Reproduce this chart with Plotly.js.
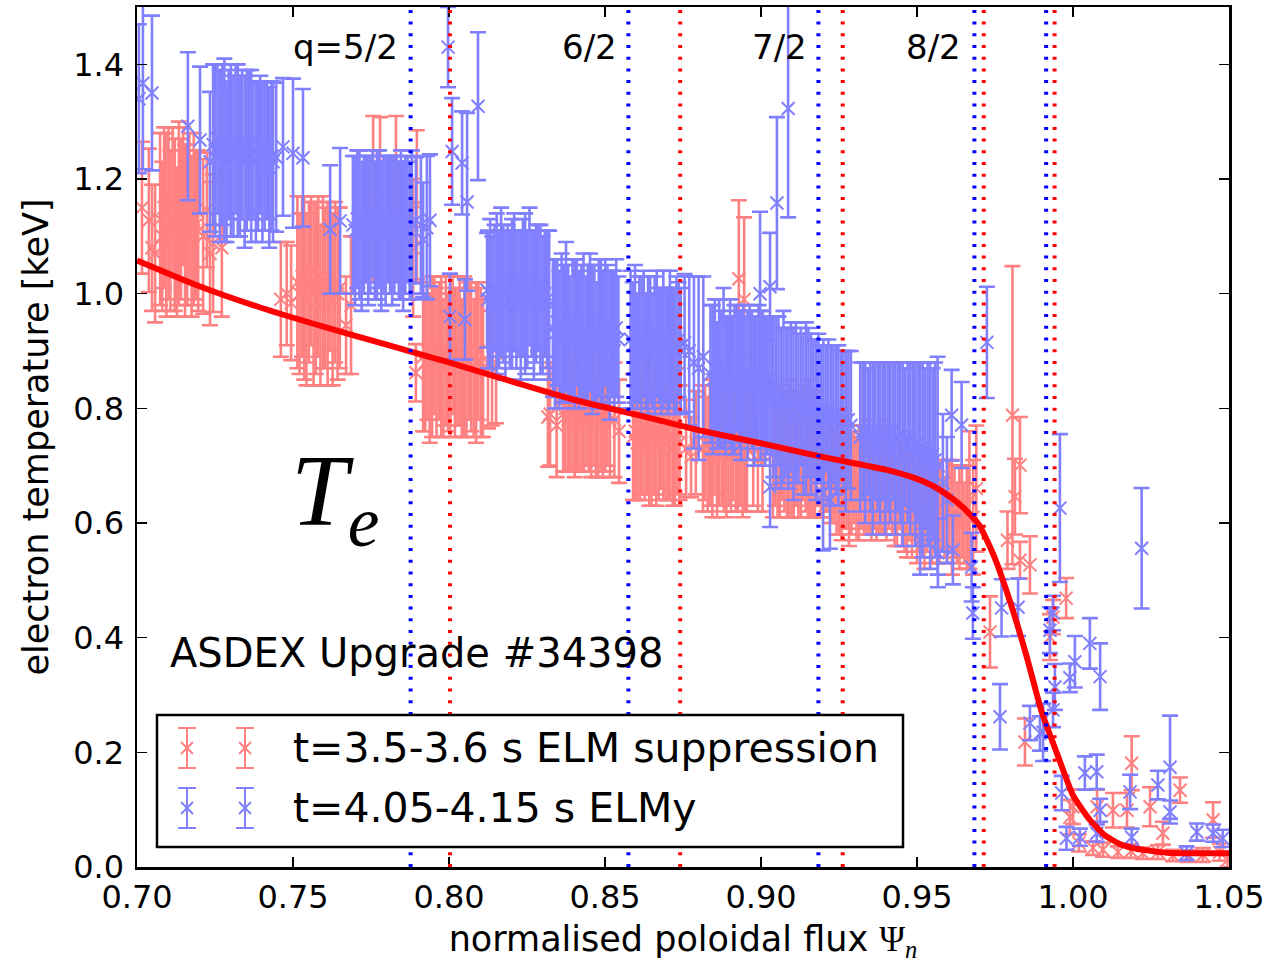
<!DOCTYPE html>
<html><head><meta charset="utf-8">
<script src="https://cdn.plot.ly/plotly-3.0.1.min.js"></script>
<style>html,body{margin:0;padding:0;background:#fff}</style>
</head><body><div id="chart" style="width:1287px;height:963px"></div>
<script>
// ---- data: [psi_n, Te (keV), error (keV)] ----
// t=3.5-3.6 s ELM suppression
const suppA = [[0.7016,1.150,0.115],[0.7038,1.128,0.125],[0.7048,1.080,0.110],[0.7058,1.070,0.120],
[0.7074,1.13,0.15],[0.7081,1.10,0.13],[0.7087,1.15,0.14],[0.7094,1.12,0.16],[0.7101,1.14,0.15],[0.7107,1.11,0.14],[0.7114,1.16,0.13],[0.7121,1.12,0.15],[0.7128,1.09,0.13],[0.7134,1.14,0.16],[0.7141,1.13,0.14],[0.7148,1.17,0.12],[0.7154,1.11,0.15],[0.7161,1.12,0.14],[0.7168,1.15,0.13],[0.7175,1.10,0.14],[0.7182,1.13,0.15],[0.7189,1.12,0.13],[0.7196,1.11,0.14],
[0.7212,1.100,0.135],[0.7224,1.146,0.100],[0.7234,1.070,0.125],[0.7244,1.088,0.120],[0.7272,1.080,0.120]];
const suppB = [[0.7461,0.990,0.100],[0.7480,1.000,0.090],[0.7494,0.984,0.100],
[0.7514,1.02,0.15],[0.7521,1.00,0.14],[0.7529,1.03,0.14],[0.7536,1.01,0.16],[0.7543,0.99,0.15],[0.7551,1.02,0.14],[0.7558,1.04,0.13],[0.7566,1.00,0.16],[0.7573,1.01,0.15],[0.7581,1.03,0.14],[0.7588,0.98,0.14],[0.7596,1.02,0.15],[0.7603,1.01,0.14],[0.7611,1.00,0.16],[0.7619,1.03,0.13],[0.7627,0.99,0.15],[0.7635,1.02,0.14],[0.7643,1.00,0.15],[0.7650,1.01,0.14],
[0.7670,0.945,0.085],[0.7686,0.980,0.120],
[0.7757,1.165,0.145],[0.7779,1.168,0.140],[0.7830,1.170,0.140],[0.7885,1.080,0.120],[0.7897,1.155,0.130]];
const suppC = [[0.7894,0.862,0.050],
[0.7917,0.89,0.13],[0.7924,0.88,0.12],[0.7931,0.90,0.12],[0.7938,0.87,0.13],[0.7946,0.89,0.14],[0.7953,0.91,0.12],[0.7960,0.88,0.13],[0.7968,0.90,0.12],[0.7975,0.89,0.14],[0.7982,0.87,0.12],[0.7990,0.90,0.13],[0.7997,0.88,0.12],[0.8004,0.89,0.14],[0.8012,0.91,0.12],[0.8019,0.88,0.13],[0.8027,0.89,0.12],[0.8034,0.90,0.13],[0.8041,0.87,0.12],[0.8049,0.89,0.14],[0.8056,0.88,0.13],[0.8064,0.90,0.12],[0.8071,0.89,0.13],[0.8079,0.87,0.12],[0.8087,0.88,0.14],[0.8094,0.90,0.12],[0.8102,0.88,0.13],[0.8109,0.87,0.12],
[0.8125,0.880,0.115],[0.8138,0.870,0.100],[0.8151,0.879,0.105]];
const suppD = [[0.8317,0.785,0.087],[0.8324,0.790,0.090],[0.8345,0.770,0.090],
[0.8366,0.79,0.10],[0.8373,0.80,0.11],[0.8381,0.78,0.09],[0.8388,0.81,0.12],[0.8396,0.79,0.10],[0.8403,0.77,0.09],[0.8411,0.80,0.11],[0.8418,0.79,0.10],[0.8426,0.78,0.09],[0.8433,0.81,0.12],[0.8441,0.80,0.10],[0.8448,0.78,0.09],[0.8456,0.79,0.11],[0.8463,0.80,0.10],[0.8471,0.77,0.09],[0.8478,0.79,0.11],[0.8486,0.81,0.12],[0.8493,0.78,0.10],[0.8501,0.80,0.11],[0.8508,0.79,0.09],[0.8516,0.78,0.10],
[0.8530,0.780,0.100],[0.8545,0.760,0.090]];
const suppE = [[0.8590,0.75,0.11],[0.8597,0.76,0.12],[0.8604,0.74,0.10],[0.8612,0.75,0.11],[0.8619,0.77,0.12],[0.8627,0.74,0.10],[0.8634,0.76,0.11],[0.8642,0.75,0.12],[0.8649,0.73,0.10],[0.8657,0.76,0.11],[0.8664,0.75,0.12],[0.8672,0.74,0.10],[0.8679,0.77,0.11],[0.8687,0.75,0.11],[0.8694,0.74,0.10],[0.8702,0.76,0.12],[0.8709,0.75,0.11],[0.8717,0.73,0.10],[0.8724,0.75,0.12],[0.8732,0.76,0.11],[0.8739,0.74,0.10],
[0.8760,0.730,0.085],[0.8776,0.715,0.070],[0.8791,0.740,0.090]];
const suppF = [[0.8814,0.73,0.11],[0.8821,0.74,0.10],[0.8829,0.72,0.10],[0.8836,0.74,0.11],[0.8844,0.73,0.12],[0.8851,0.75,0.10],[0.8859,0.72,0.11],[0.8866,0.73,0.10],[0.8874,0.74,0.11],[0.8881,0.72,0.10],[0.8889,0.73,0.12],[0.8896,0.74,0.11],[0.8904,0.72,0.10],[0.8911,0.74,0.10],[0.8919,0.73,0.11],[0.8926,0.72,0.10],[0.8934,0.74,0.11],[0.8941,0.73,0.12],[0.8949,0.72,0.10],[0.8955,0.73,0.11],
[0.8929,1.026,0.137],[0.8946,0.990,0.143],
[0.8975,0.730,0.100],[0.8990,0.710,0.090],[0.9005,0.720,0.100]];
const suppG = [[0.9038,0.72,0.11],[0.9045,0.73,0.10],[0.9053,0.71,0.10],[0.9060,0.72,0.11],[0.9068,0.74,0.10],[0.9075,0.71,0.09],[0.9083,0.72,0.11],[0.9090,0.73,0.12],[0.9098,0.71,0.10],[0.9105,0.72,0.11],[0.9113,0.73,0.10],[0.9120,0.71,0.10],[0.9128,0.72,0.11],[0.9135,0.74,0.10],[0.9143,0.71,0.09],[0.9150,0.72,0.11],[0.9158,0.73,0.12],[0.9165,0.71,0.10],[0.9173,0.72,0.11],[0.9179,0.73,0.10]];
const suppH = [[0.9192,0.70,0.09],[0.9200,0.69,0.08],[0.9209,0.71,0.09],[0.9218,0.70,0.08],[0.9226,0.69,0.09],[0.9234,0.68,0.08],[0.9242,0.67,0.09],[0.9250,0.68,0.10],[0.9258,0.66,0.09],[0.9266,0.67,0.08],[0.9274,0.68,0.09],[0.9282,0.66,0.10],[0.9290,0.67,0.09],[0.9298,0.68,0.08],[0.9306,0.66,0.09],[0.9314,0.67,0.10],[0.9322,0.68,0.09],[0.9330,0.66,0.08],[0.9338,0.67,0.09],[0.9346,0.68,0.10],[0.9354,0.66,0.09],[0.9362,0.67,0.08],[0.9370,0.66,0.09],[0.9378,0.68,0.10],[0.9386,0.67,0.09],[0.9394,0.66,0.08],[0.9402,0.67,0.10],[0.9410,0.68,0.09]];
const suppI = [[0.9420,0.66,0.08],[0.9428,0.65,0.09],[0.9436,0.64,0.08],[0.9444,0.66,0.07],[0.9452,0.65,0.09],[0.9460,0.63,0.08],[0.9468,0.64,0.10],[0.9476,0.65,0.08],[0.9484,0.63,0.09],[0.9492,0.64,0.07],[0.9500,0.62,0.09],[0.9508,0.63,0.08],[0.9516,0.64,0.09],[0.9524,0.62,0.10],[0.9532,0.63,0.08],[0.9540,0.64,0.08],[0.9548,0.62,0.09],[0.9556,0.63,0.07],[0.9564,0.61,0.08],[0.9572,0.62,0.09],[0.9580,0.63,0.08],[0.9588,0.61,0.07],[0.9596,0.62,0.09],[0.9604,0.63,0.08],[0.9612,0.61,0.10],[0.9620,0.62,0.08],[0.9628,0.60,0.07],[0.9636,0.61,0.09],[0.9644,0.62,0.08],[0.9652,0.60,0.07],[0.9660,0.61,0.09],
[0.9668,0.640,0.120],[0.9680,0.610,0.100],[0.9690,0.660,0.110]];
const suppEdge = [[0.9734,0.410,0.062],[0.9790,0.570,0.050],[0.9806,0.788,0.260],[0.9814,0.646,0.066],[0.9830,0.701,0.084],[0.9830,0.535,0.032],[0.9846,0.218,0.041],[0.9862,0.527,0.050],[0.9926,0.401,0.040],[0.9936,0.436,0.030],[0.9978,0.469,0.035],[0.9990,0.087,0.030],[1.0000,0.105,0.030],[1.0077,0.105,0.030],[1.0128,0.099,0.030],[1.0173,0.099,0.030],[1.0188,0.181,0.047],[1.0247,0.105,0.034],[1.0288,0.059,0.020],[1.0343,0.134,0.022],[1.0449,0.082,0.031],
[1.0019,0.042,0.015],[1.0064,0.033,0.012],[1.0096,0.030,0.012],[1.0144,0.026,0.010],[1.0186,0.028,0.012],[1.0224,0.024,0.010],[1.0272,0.026,0.012],[1.0320,0.020,0.010],[1.0368,0.019,0.010],[1.0416,0.021,0.012],[1.0470,0.026,0.015],[1.0495,0.012,0.012]];

// t=4.05-4.15 s ELMy
const elmyA = [[0.7006,1.340,0.130],[0.7019,1.367,0.150],[0.7048,1.350,0.135],
[0.7163,1.292,0.129],[0.7202,1.268,0.128],[0.7234,1.230,0.122],
[0.7244,1.26,0.14],[0.7251,1.25,0.15],[0.7258,1.27,0.13],[0.7265,1.24,0.15],[0.7273,1.26,0.14],[0.7280,1.25,0.16],[0.7287,1.23,0.14],[0.7294,1.26,0.13],[0.7301,1.25,0.15],[0.7309,1.24,0.14],[0.7316,1.27,0.13],[0.7323,1.25,0.15],[0.7330,1.24,0.14],[0.7337,1.26,0.13],[0.7345,1.23,0.15],[0.7352,1.25,0.14],[0.7359,1.26,0.13],[0.7366,1.24,0.15],[0.7373,1.25,0.12],[0.7381,1.23,0.14],[0.7388,1.24,0.13],[0.7395,1.26,0.12],[0.7402,1.23,0.14],[0.7409,1.24,0.13],[0.7417,1.25,0.12],[0.7424,1.22,0.14],[0.7431,1.24,0.13],[0.7436,1.23,0.14],
[0.7446,1.238,0.130],[0.7468,1.256,0.120],[0.7500,1.245,0.130],[0.7532,1.237,0.120],
[0.7619,1.112,0.112],[0.7651,1.127,0.127]];
const elmyB = [[0.7692,1.12,0.12],[0.7699,1.11,0.13],[0.7706,1.13,0.12],[0.7713,1.12,0.13],[0.7720,1.10,0.13],[0.7727,1.12,0.12],[0.7734,1.13,0.11],[0.7741,1.11,0.13],[0.7748,1.12,0.12],[0.7755,1.14,0.11],[0.7762,1.11,0.12],[0.7769,1.12,0.13],[0.7776,1.13,0.12],[0.7783,1.10,0.13],[0.7790,1.12,0.12],[0.7797,1.11,0.13],[0.7804,1.13,0.11],[0.7811,1.12,0.12],[0.7818,1.11,0.13],[0.7825,1.12,0.12],[0.7832,1.13,0.11],[0.7839,1.11,0.12],[0.7846,1.12,0.13],[0.7853,1.10,0.13],[0.7860,1.12,0.12],[0.7867,1.13,0.11],[0.7874,1.11,0.12],[0.7881,1.12,0.13],
[0.7894,1.128,0.110],[0.7910,1.120,0.120],[0.7917,1.094,0.100],[0.7929,1.115,0.125],[0.7939,1.128,0.115],
[0.7997,1.430,0.070],[0.8003,0.960,0.075],[0.8010,1.248,0.093],[0.8042,1.228,0.090],[0.8051,0.955,0.070],[0.8058,1.160,0.155],[0.8093,1.327,0.129],[0.8122,1.006,0.100]];
const elmyC = [[0.8125,0.99,0.12],[0.8132,1.00,0.13],[0.8139,0.98,0.12],[0.8146,1.01,0.11],[0.8153,1.00,0.14],[0.8160,0.99,0.12],[0.8167,1.02,0.13],[0.8174,1.00,0.12],[0.8181,0.98,0.13],[0.8188,1.01,0.11],[0.8195,0.99,0.12],[0.8202,1.00,0.13],[0.8209,1.02,0.12],[0.8216,0.99,0.12],[0.8223,1.00,0.11],[0.8230,0.98,0.13],[0.8237,1.01,0.12],[0.8244,1.00,0.14],[0.8251,0.99,0.12],[0.8258,1.03,0.12],[0.8265,1.00,0.11],[0.8272,0.98,0.13],[0.8279,1.00,0.12],[0.8286,1.01,0.11],[0.8293,0.99,0.13],[0.8300,0.98,0.12],[0.8307,1.00,0.11],[0.8314,0.99,0.12],[0.8321,0.98,0.13]];
const elmyD = [[0.8333,0.94,0.12],[0.8340,0.93,0.13],[0.8347,0.95,0.11],[0.8354,0.92,0.12],[0.8361,0.94,0.13],[0.8368,0.93,0.12],[0.8375,0.96,0.13],[0.8382,0.93,0.12],[0.8389,0.92,0.11],[0.8396,0.94,0.12],[0.8403,0.93,0.13],[0.8410,0.95,0.11],[0.8417,0.92,0.12],[0.8424,0.93,0.12],[0.8431,0.94,0.13],[0.8438,0.92,0.11],[0.8445,0.93,0.12],[0.8452,0.95,0.12],[0.8459,0.92,0.13],[0.8466,0.93,0.12],[0.8473,0.91,0.11],[0.8480,0.94,0.12],[0.8487,0.93,0.13],[0.8494,0.92,0.12],[0.8501,0.95,0.11],[0.8508,0.93,0.12],[0.8515,0.91,0.13],[0.8522,0.93,0.11],[0.8529,0.92,0.12],[0.8536,0.94,0.12],[0.8543,0.92,0.11]];
const elmyE = [[0.8582,0.92,0.12],[0.8589,0.91,0.11],[0.8596,0.93,0.12],[0.8603,0.90,0.10],[0.8610,0.92,0.11],[0.8617,0.91,0.12],[0.8624,0.93,0.11],[0.8631,0.90,0.10],[0.8638,0.91,0.12],[0.8645,0.92,0.11],[0.8652,0.90,0.10],[0.8659,0.91,0.12],[0.8666,0.93,0.11],[0.8673,0.91,0.10],[0.8680,0.90,0.11],[0.8687,0.92,0.12],[0.8694,0.91,0.10],[0.8701,0.90,0.11],[0.8708,0.92,0.12],[0.8715,0.91,0.10],[0.8722,0.90,0.11],[0.8729,0.91,0.12],[0.8736,0.92,0.10],[0.8743,0.90,0.11],
[0.8755,0.914,0.120],[0.8770,0.900,0.130],[0.8785,0.880,0.150],[0.8800,0.870,0.160],[0.8815,0.890,0.140]];
const elmyF = [[0.8838,0.86,0.12],[0.8845,0.85,0.13],[0.8852,0.87,0.12],[0.8859,0.84,0.11],[0.8866,0.86,0.13],[0.8873,0.85,0.12],[0.8880,0.87,0.14],[0.8887,0.84,0.12],[0.8894,0.85,0.11],[0.8901,0.86,0.13],[0.8908,0.84,0.12],[0.8915,0.85,0.13],[0.8922,0.87,0.11],[0.8929,0.85,0.12],[0.8936,0.84,0.13],[0.8943,0.86,0.12],[0.8950,0.85,0.11],[0.8957,0.84,0.13],[0.8964,0.86,0.12],[0.8971,0.85,0.12],[0.8978,0.83,0.13],[0.8985,0.85,0.11],[0.8992,0.86,0.12],[0.8999,0.84,0.13],[0.9006,0.85,0.12],[0.9013,0.83,0.13],[0.9020,0.84,0.12],[0.9027,0.85,0.11],[0.9034,0.84,0.12],
[0.8997,1.000,0.143],[0.9029,1.012,0.094],[0.9051,1.158,0.150],[0.9087,1.323,0.190]];
const elmyG = [[0.9040,0.82,0.14],[0.9048,0.81,0.15],[0.9056,0.83,0.13],[0.9064,0.80,0.14],[0.9072,0.82,0.15],[0.9080,0.81,0.13],[0.9088,0.80,0.14],[0.9096,0.82,0.13],[0.9104,0.79,0.15],[0.9112,0.81,0.14],[0.9120,0.80,0.13],[0.9128,0.82,0.12],[0.9136,0.79,0.14],[0.9144,0.80,0.15],[0.9152,0.81,0.13],[0.9160,0.79,0.14],[0.9168,0.80,0.12],[0.9176,0.78,0.14],[0.9184,0.80,0.13],[0.9192,0.79,0.12],[0.9200,0.78,0.14],[0.9208,0.80,0.11],[0.9216,0.79,0.13],[0.9224,0.77,0.14],[0.9232,0.79,0.12],[0.9240,0.78,0.13],[0.9248,0.77,0.14],[0.9256,0.79,0.11],[0.9264,0.78,0.12],[0.9272,0.76,0.14],[0.9280,0.78,0.12],[0.9288,0.77,0.13],
[0.9029,0.663,0.070],[0.9199,0.652,0.100],[0.9221,0.640,0.085]];
const elmyH = [[0.9318,0.75,0.13],[0.9326,0.76,0.12],[0.9334,0.74,0.14],[0.9342,0.76,0.11],[0.9350,0.75,0.13],[0.9358,0.73,0.15],[0.9366,0.76,0.12],[0.9374,0.75,0.13],[0.9382,0.74,0.14],[0.9390,0.76,0.12],[0.9398,0.73,0.15],[0.9406,0.75,0.13],[0.9414,0.74,0.14],[0.9422,0.76,0.12],[0.9430,0.73,0.15],[0.9438,0.75,0.13],[0.9446,0.74,0.14],[0.9454,0.72,0.16],[0.9462,0.75,0.12],[0.9470,0.74,0.14],[0.9478,0.73,0.15],[0.9486,0.75,0.13],[0.9494,0.72,0.16],[0.9502,0.74,0.14],[0.9510,0.73,0.15],[0.9518,0.71,0.17],[0.9526,0.73,0.14],[0.9534,0.72,0.16],[0.9542,0.70,0.18],[0.9550,0.72,0.15],[0.9558,0.71,0.17],[0.9566,0.70,0.19],
[0.9510,0.570,0.060],[0.9567,0.548,0.060],[0.9583,0.670,0.120],[0.9596,0.640,0.110],[0.9611,0.788,0.079],[0.9615,0.553,0.060],[0.9643,0.771,0.075]];
const elmyEdge = [[0.9675,0.523,0.060],[0.9679,0.443,0.045],[0.9724,0.915,0.097],[0.9766,0.262,0.057],[0.9771,0.452,0.050],[0.9824,0.453,0.050],[0.9862,0.251,0.030],[0.9894,0.233,0.030],[0.9904,0.235,0.050],[0.9926,0.413,0.040],[0.9936,0.443,0.030],[0.9936,0.274,0.030],[0.9942,0.314,0.040],[0.9958,0.626,0.129],[0.9964,0.129,0.030],[0.9979,0.050,0.020],[0.9990,0.330,0.025],[1.0006,0.358,0.045],[1.0022,0.052,0.015],[1.0038,0.164,0.029],[1.0054,0.390,0.044],[1.0076,0.166,0.030],[1.0076,0.059,0.015],[1.0087,0.332,0.058],[1.0087,0.099,0.020],[1.0183,0.131,0.030],[1.0188,0.052,0.015],[1.0220,0.556,0.105],[1.0272,0.143,0.025],[1.0311,0.174,0.090],[1.0311,0.096,0.020],[1.0364,0.024,0.012],[1.0397,0.061,0.015],[1.0449,0.059,0.015],[1.0480,0.050,0.015]];

// fitted profile
const fitX = [0.70,0.72,0.74,0.76,0.78,0.80,0.82,0.84,0.86,0.88,0.90,0.92,0.94,0.95,0.955,0.96,0.965,0.97,0.975,0.98,0.985,0.99,0.995,1.00,1.005,1.01,1.015,1.02,1.03,1.04,1.05];
const fitY = [1.058,1.013,0.975,0.942,0.911,0.880,0.847,0.815,0.789,0.762,0.739,0.715,0.693,0.677,0.665,0.648,0.626,0.596,0.538,0.460,0.370,0.270,0.196,0.125,0.085,0.056,0.040,0.032,0.025,0.024,0.024];

// rational surface positions
const qBlueX = [0.7877,0.8575,0.9184,0.9684,0.9914];
const qRedX  = [0.8003,0.8741,0.9262,0.9714,0.9941];
const qLabels = ['q=5/2','6/2','7/2','8/2'];
const qLabelX = [0.7667,0.8449,0.9058,0.9554];
const qLabelY = 1.43;

const seriesNames = ['t=3.5-3.6 s ELM suppression','t=4.05-4.15 s ELMy'];
const seriesColors = ['#ff8080','#8080ff'];

function cols(groups){const x=[],y=[],e=[];groups.forEach(g=>g.forEach(p=>{x.push(p[0]);y.push(p[1]);e.push(p[2]);}));return {x,y,e};}
const supp = cols([suppA,suppB,suppC,suppD,suppE,suppF,suppG,suppH,suppI,suppEdge]);
const elmy = cols([elmyA,elmyB,elmyC,elmyD,elmyE,elmyF,elmyG,elmyH,elmyEdge]);

function errTrace(s,color,name){
  return {type:'scatter',mode:'markers',name:name,x:s.x,y:s.y,showlegend:false,hoverinfo:'skip',
    error_y:{type:'data',array:s.e,visible:true,color:color,thickness:2.6,width:8},
    marker:{symbol:'x-thin-open',size:13,color:color,line:{color:color,width:2}}};
}
const traces = [
  errTrace(supp,seriesColors[0],seriesNames[0]),
  errTrace(elmy,seriesColors[1],seriesNames[1]),
  {type:'scatter',mode:'lines',x:fitX,y:fitY,showlegend:false,hoverinfo:'skip',
   line:{color:'#ff0000',width:6,shape:'spline',smoothing:0.5}}
];

// geometry helpers for the hand-drawn legend (pixel -> paper)
const L=137,R=1229,T=7,B=867;
const px=v=>(v-L)/(R-L), py=v=>(B-v)/(B-T);

const shapes=[];
qBlueX.forEach(v=>shapes.push({type:'line',xref:'x',yref:'paper',x0:v,x1:v,y0:0,y1:1,line:{color:'#0000ff',width:4,dash:'3px,8.7px'}}));
qRedX.forEach(v=>shapes.push({type:'line',xref:'x',yref:'paper',x0:v,x1:v,y0:0,y1:1,line:{color:'#ff0000',width:4,dash:'3px,8.7px'}}));
shapes.push({type:'rect',xref:'paper',yref:'paper',x0:px(157),x1:px(903),y0:py(847),y1:py(715),fillcolor:'#ffffff',line:{color:'#000000',width:2.5}});
const rowY=[748,808];
[187,245].forEach(cx=>{
  rowY.forEach((cy,i)=>{
    const c=seriesColors[i], ln={color:c,width:2};
    shapes.push({type:'line',xref:'paper',yref:'paper',x0:px(cx),x1:px(cx),y0:py(cy-20),y1:py(cy+20),line:ln});
    shapes.push({type:'line',xref:'paper',yref:'paper',x0:px(cx-9),x1:px(cx+9),y0:py(cy-20),y1:py(cy-20),line:ln});
    shapes.push({type:'line',xref:'paper',yref:'paper',x0:px(cx-9),x1:px(cx+9),y0:py(cy+20),y1:py(cy+20),line:ln});
    shapes.push({type:'line',xref:'paper',yref:'paper',x0:px(cx-6),x1:px(cx+6),y0:py(cy-6),y1:py(cy+6),line:ln});
    shapes.push({type:'line',xref:'paper',yref:'paper',x0:px(cx-6),x1:px(cx+6),y0:py(cy+6),y1:py(cy-6),line:ln});
  });
});

const font='DejaVu Sans';
const annotations=[];
qLabels.forEach((t,i)=>annotations.push({text:t,x:qLabelX[i],y:qLabelY,xref:'x',yref:'y',showarrow:false,xanchor:'center',yanchor:'middle',font:{family:font,size:34,color:'#000'}}));
annotations.push({text:'<i>T</i><sub><i>e</i></sub>',x:0.7633,y:0.645,xref:'x',yref:'y',showarrow:false,xanchor:'center',yanchor:'middle',font:{family:'Liberation Serif',size:102,color:'#000'}});
annotations.push({text:'ASDEX Upgrade #34398',x:0.70994,y:0.3733,xref:'x',yref:'y',showarrow:false,xanchor:'left',yanchor:'middle',font:{family:font,size:40,color:'#000'}});
seriesNames.forEach((t,i)=>annotations.push({text:t,x:px(291),y:py(rowY[i]),xref:'paper',yref:'paper',showarrow:false,xanchor:'left',yanchor:'middle',font:{family:font,size:41,color:'#000'}}));

const axisCommon={showline:true,linewidth:2.5,linecolor:'#000',mirror:'ticks',ticks:'inside',ticklen:10,tickwidth:1.5,tickcolor:'#000',
  showgrid:false,zeroline:false,automargin:false,tickfont:{family:font,size:32,color:'#000'}};
const layout={
  width:1287,height:963,margin:{l:L,r:1287-R,t:T,b:963-B},
  paper_bgcolor:'#fff',plot_bgcolor:'#fff',showlegend:false,
  xaxis:Object.assign({},axisCommon,{range:[0.70,1.05],tick0:0.70,dtick:0.05,tickformat:'.2f',ticklabelstandoff:0,
    title:{text:'normalised poloidal flux <span style="font-family:Liberation Serif">Ψ<sub><i>n</i></sub></span>',font:{family:font,size:35,color:'#000'},standoff:15}}),
  yaxis:Object.assign({},axisCommon,{range:[0,1.5],tick0:0,dtick:0.2,tickformat:'.1f',ticklabelstandoff:4,
    title:{text:'electron temperature [keV]',font:{family:font,size:35,color:'#000'},standoff:14}}),
  shapes:shapes,annotations:annotations
};
Plotly.newPlot('chart',traces,layout,{displayModeBar:false,staticPlot:true});
</script></body></html>
